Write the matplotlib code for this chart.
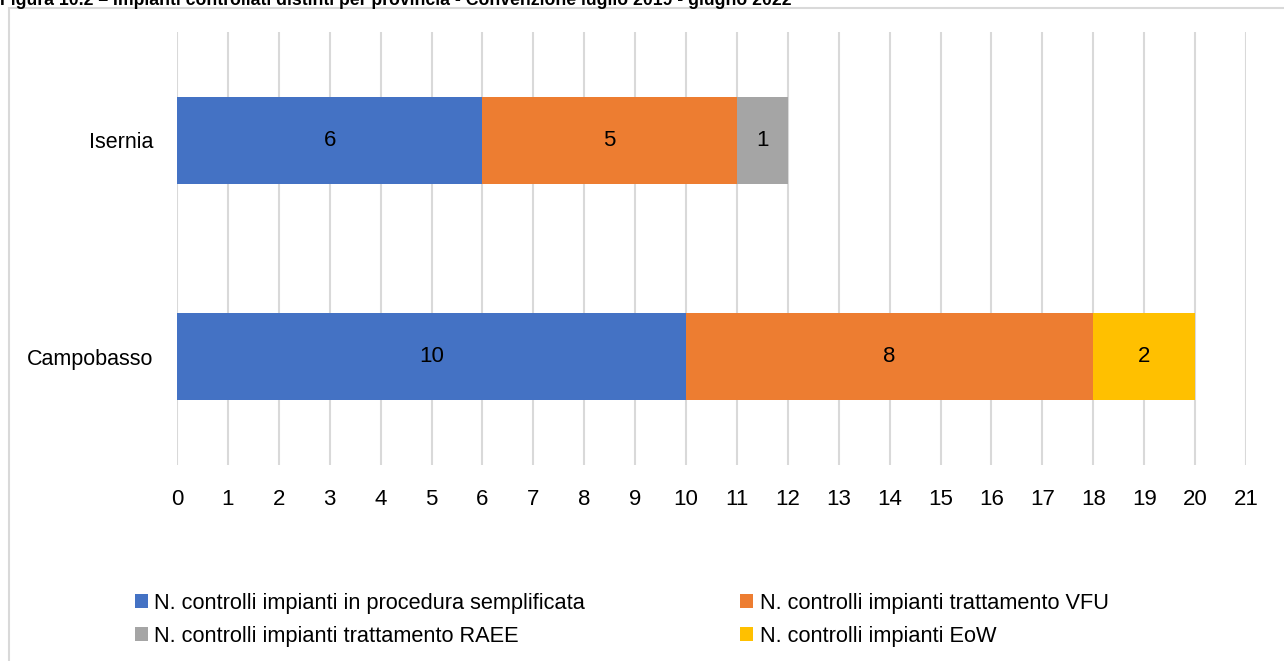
import matplotlib.pyplot as plt
from matplotlib.patches import Rectangle

# dati per provincia
province = ['Campobasso', 'Isernia']
semplificata = [10, 6]
vfu = [8, 5]
raee = [0, 1]
eow = [2, 0]

serie_nomi = ['N. controlli impianti in procedura semplificata',
              'N. controlli impianti trattamento VFU',
              'N. controlli impianti trattamento RAEE',
              'N. controlli impianti EoW']
colori = ['#4472C4', '#ED7D31', '#A5A5A5', '#FFC000']
titolo = ('Figura 10.2 – Impianti controllati distinti per provincia - '
          'Convenzione luglio 2019 - giugno 2022')

plt.rcParams['font.family'] = ['Liberation Sans', 'DejaVu Sans']

fig = plt.figure(figsize=(12.84, 6.61), dpi=100)

# cornice del grafico
fig.patches.append(Rectangle((9 / 1284, -0.05), 1.0, 1 - 8 / 661 + 0.05,
                             transform=fig.transFigure, fill=False,
                             edgecolor='#d9d9d9', linewidth=1.5))
fig.text(0.0, 1 - 5 / 661, titolo, fontsize=12.7, fontweight='bold',
         va='baseline', ha='left')

ax = fig.add_axes([177 / 1284, 1 - 465 / 661, (1246 - 177) / 1284, (465 - 32) / 661])

y = list(range(len(province)))
left = [0] * len(province)
for valori, nome, col in zip([semplificata, vfu, raee, eow], serie_nomi, colori):
    barre = ax.barh(y, valori, left=left, height=0.4, color=col, label=nome, zorder=3)
    for b, v in zip(barre, valori):
        if v:
            ax.text(b.get_x() + b.get_width() / 2, b.get_y() + b.get_height() / 2,
                    str(v), ha='center', va='center', fontsize=16, zorder=4)
    left = [a + b for a, b in zip(left, valori)]

ax.set_xlim(0, 21)
ax.set_ylim(-0.5, 1.5)
ax.set_xticks(range(0, 22))
ax.set_yticks(y)
ax.set_yticklabels(province)
ax.tick_params(axis='x', length=0, labelsize=16, pad=17)
ax.tick_params(axis='y', length=0, labelsize=15.5, pad=17)
ax.grid(axis='x', color='#d9d9d9', linewidth=1.5, zorder=0)
for s in ax.spines.values():
    s.set_visible(False)

handles, labels = ax.get_legend_handles_labels()
ordine = [0, 2, 1, 3]
fig.legend([handles[i] for i in ordine], [labels[i] for i in ordine],
           ncol=2, loc='upper left', bbox_to_anchor=(115 / 1284, 1 - 573 / 661),
           frameon=False, prop={'size': 15.7},
           handlelength=0.6, handleheight=0.6, handletextpad=0.3,
           columnspacing=7.1, labelspacing=0.55)

fig.savefig('out.png', dpi=100)
